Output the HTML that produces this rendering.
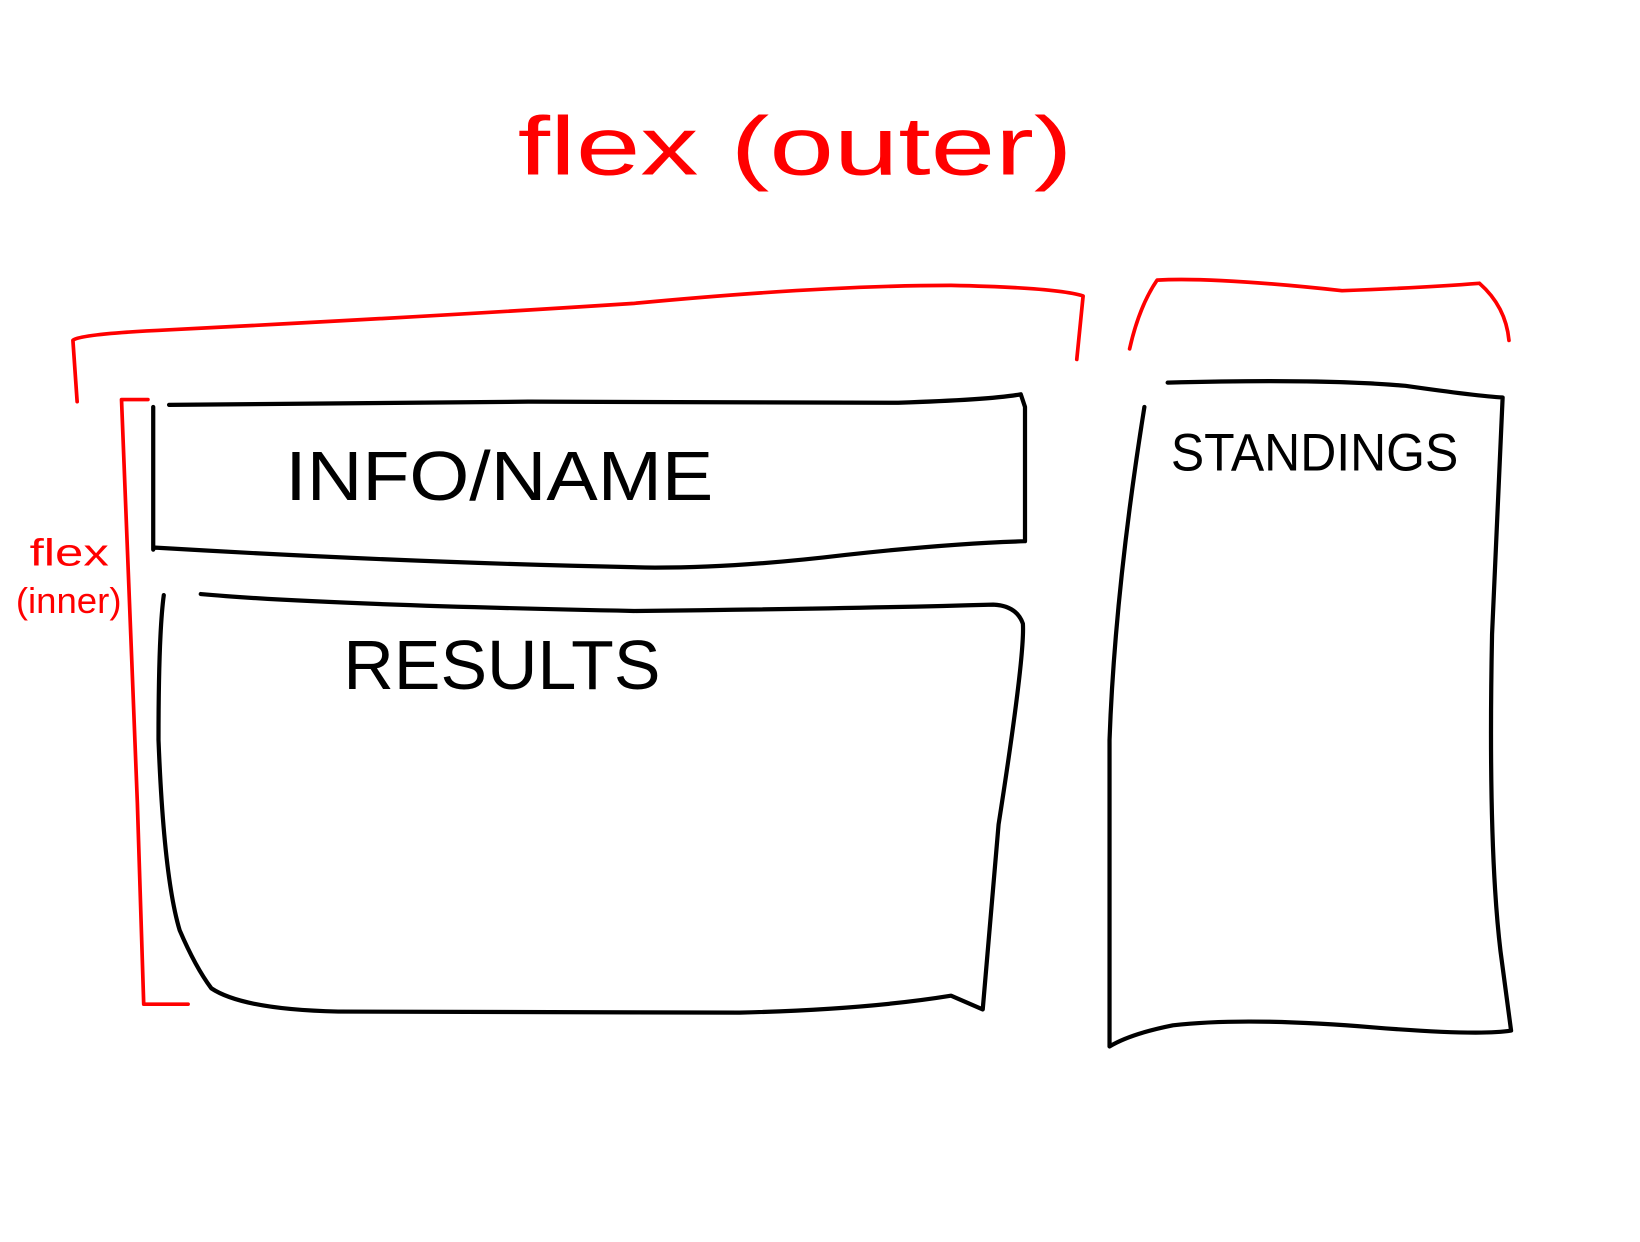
<!DOCTYPE html>
<html><head><meta charset="utf-8"><style>
html,body{margin:0;padding:0;background:#fff;}
svg{display:block;}
text{font-family:"Liberation Sans",sans-serif;}
</style></head><body>
<svg width="1640" height="1242" viewBox="0 0 1552 1175" preserveAspectRatio="none">
<rect width="1552" height="1175" fill="#fff"/>
<g fill="none" stroke="#f00" stroke-width="3.5" stroke-linecap="round" stroke-linejoin="round">
<path d="M73,380 L69,322 Q75,316 160,312 Q400,300 600,287 Q780,270 900,270 Q1000,272 1025,280 L1019,340"/>
<path d="M1069,330 Q1078,290 1095,265 Q1150,262 1270,275 Q1350,272 1400,268 Q1425,290 1428,322"/>
<path d="M140,378 L115,378 L130,760 L136,950 L178,950"/>
</g>
<text x="490" y="165" font-size="78" fill="#f00" textLength="525" lengthAdjust="spacingAndGlyphs">flex  (outer)</text>
<text x="28" y="535" font-size="36" fill="#f00" textLength="75" lengthAdjust="spacingAndGlyphs">flex</text>
<text x="15" y="580" font-size="34" fill="#f00" textLength="100" lengthAdjust="spacingAndGlyphs">(inner)</text>
<g fill="none" stroke="#000" stroke-width="4" stroke-linecap="round" stroke-linejoin="round">
<path d="M145,385 L145,520 M160,383 L500,380 L850,381 Q940,378 966,373 L970,385 L970,512 Q900,514 800,525 Q700,537 620,537 Q400,533 145,518"/>
<path d="M155,563 Q150,600 150,700 Q155,830 170,880 Q185,915 200,935 Q230,955 320,957 L700,958 Q820,955 900,942 L930,955 L945,780 Q970,620 968,590 Q962,573 940,572 Q800,576 600,578 Q300,572 190,562"/>
<path d="M1105,362 Q1250,358 1330,365 Q1400,375 1422,376 L1412,600 Q1408,800 1420,900 L1430,975 Q1400,980 1300,972 Q1180,962 1110,970 Q1070,978 1050,990 L1050,700 Q1055,560 1083,385"/>
</g>
<text x="270" y="473" font-size="66" fill="#000" textLength="405" lengthAdjust="spacingAndGlyphs">INFO/NAME</text>
<text x="325" y="652" font-size="66" fill="#000" textLength="300" lengthAdjust="spacingAndGlyphs">RESULTS</text>
<text x="1108" y="445" font-size="50" fill="#000" textLength="272" lengthAdjust="spacingAndGlyphs">STANDINGS</text>
</svg>
</body></html>
